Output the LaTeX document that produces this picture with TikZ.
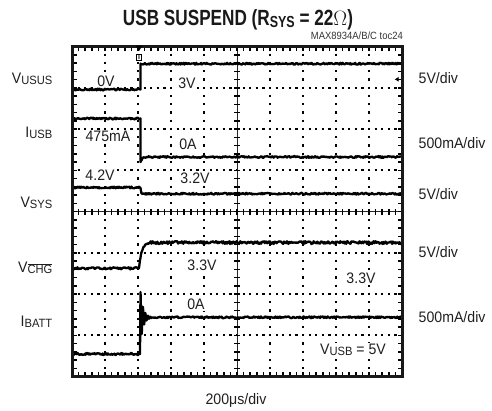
\documentclass[tikz,border=0pt]{standalone}
\usepackage{fontspec}
\usetikzlibrary{arrows.meta}
\setmainfont{Liberation Sans}[FakeStretch=0.93]
\newfontfamily\titlefont{Liberation Sans Bold}[FakeStretch=0.78]
\newfontfamily\smallfont{Liberation Sans}[FakeStretch=0.9]
\newcommand\lsub[1]{\raisebox{-1pt}{\fontsize{12}{13}\selectfont #1}}
\newcommand\tsub[1]{\raisebox{-2pt}{\fontsize{16}{17}\selectfont #1}}
\begin{document}
\begin{tikzpicture}[x=1pt,y=-1pt,
  lbl/.style={inner sep=0.5pt,font=\fontsize{15.2}{16}\selectfont,text=black!88},
  inlbl/.style={lbl,fill=white,inner sep=1.2pt},
  hdots/.style={line width=2.2pt,dash pattern=on 2.2pt off 4.4pt,black},
  vdots/.style={line width=2.2pt,dash pattern=on 2.2pt off 6.05pt,black},
  hticks/.style={dash pattern=on 1.5pt off 5.1pt,black},
  vticks/.style={dash pattern=on 1.5pt off 6.75pt,black},
  axisline/.style={line width=1pt,black!85},
  trace/.style={line width=2.3pt,black,line join=round},
  framebox/.style={line width=3pt,black!90}]
\useasboundingbox (0,0) rectangle (492,410);
\pgfmathsetseed{7}
% grid: horizontal dotted lines
\draw[hdots] (70.9,87.75) -- (402,87.75);
\draw[hdots] (70.9,129) -- (402,129);
\draw[hdots] (70.9,170.25) -- (402,170.25);
\draw[hdots] (70.9,252.75) -- (402,252.75);
\draw[hdots] (70.9,294) -- (402,294);
\draw[hdots] (70.9,335.25) -- (402,335.25);
% grid: vertical dotted lines
\draw[vdots] (105,45.4) -- (105,376.5);
\draw[vdots] (138,45.4) -- (138,376.5);
\draw[vdots] (171,45.4) -- (171,376.5);
\draw[vdots] (204,45.4) -- (204,376.5);
\draw[vdots] (270,45.4) -- (270,376.5);
\draw[vdots] (303,45.4) -- (303,376.5);
\draw[vdots] (336,45.4) -- (336,376.5);
\draw[vdots] (369,45.4) -- (369,376.5);
% centre axes with ticks
\draw[axisline] (72,211.5) -- (402,211.5);
\draw[axisline] (237,46.5) -- (237,376.5);
\draw[hticks,line width=6pt] (71.25,211.5) -- (402,211.5);
\draw[vticks,line width=6pt] (237,45.75) -- (237,376.5);
% ticks along the frame edges
\draw[hticks,line width=4.5pt] (71.25,48.75) -- (402,48.75);
\draw[hticks,line width=4.5pt] (71.25,374.25) -- (402,374.25);
\draw[vticks,line width=4.5pt] (74.25,45.75) -- (74.25,376.5);
\draw[vticks,line width=4.5pt] (399.75,45.75) -- (399.75,376.5);
% labels inside plot (white backing)
\node[inlbl] (l0v) at (106,81.5) {0V};
\node[inlbl] (l3v) at (187,83.3) {3V};
\node[inlbl] (l475) at (108,136.7) {475mA};
\node[inlbl] (l0a) at (188,144) {0A};
\node[inlbl] (l42) at (100,175) {4.2V};
\node[inlbl] (l32) at (195,178.3) {3.2V};
\node[inlbl] (l33a) at (202,265) {3.3V};
\node[inlbl] (l33b) at (361,278.3) {3.3V};
\node[inlbl] (l0b) at (196,304) {0A};
\node[inlbl] (lvusb) at (353,350) {V\lsub{USB} = 5V};
% traces
\draw[trace] plot[domain=73:139,samples=90] (\x,{89.5+0.9*rand}) -- (140.5,89.5) -- (140.5,63.5)
  -- plot[domain=141:401,samples=330] (\x,{63.7+0.9*rand});
\draw[trace] plot[domain=73:139,samples=90] (\x,{118.5+0.9*rand}) -- (140.5,118.5) -- (140.5,162) -- (143,157.5)
  -- plot[domain=144:401,samples=330] (\x,{157+0.9*rand});
\draw[trace] plot[domain=73:139,samples=90] (\x,{187.5+0.9*rand}) -- (140.5,188) -- (141.5,193.5)
  -- plot[domain=142:401,samples=330] (\x,{193.7+0.9*rand});
\draw[trace] plot[domain=73:139,samples=90] (\x,{268.3+1.1*rand})
  -- plot[domain=139:150,samples=25] (\x,{268.3-25.5*(1-exp(-(\x-139)/2.6))+0.5*rand})
  -- plot[domain=150:401,samples=340] (\x,{242.6+1.4*rand});
\draw[trace] plot[domain=73:139,samples=90] (\x,{354+1.1*rand}) -- (140,354) -- (140.5,292)
  -- plot[domain=140.5:152,samples=80] (\x,{317.5-25*exp(-(\x-140.5)/2.8)*cos(deg(2*pi*(\x-140.5)/2.4))})
  -- plot[domain=152:401,samples=330] (\x,{317.3+0.9*rand});
% frame
\draw[framebox] (72,46.5) rectangle (402,376.5);
% trigger marker and ground arrow
\fill[black] (135.5,45.5) -- (142.5,45.5) -- (139,51) -- cycle;
\node[draw=black,line width=0.8pt,fill=white,inner sep=0.6pt,font=\fontsize{7}{7}\selectfont\bfseries] (trig) at (139,57.5) {T};
\coordinate (gndtail) at (400,79.3);
\coordinate (gndtip) at (394.5,79.3);
\draw[line width=1.3pt,-{Latex[length=4pt,width=5pt]}] (gndtail) -- (gndtip);
% title
\node[inner sep=0pt,font=\titlefont\fontsize{22}{24}\selectfont,text=black!90] (title) at (238,20) {USB SUSPEND (R\tsub{SYS} = 22$\Omega$)};
\node[inner sep=0pt,anchor=east,font=\smallfont\fontsize{10.5}{11}\selectfont,text=black!80] (toc) at (403,35.5) {MAX8934A/B/C toc24};
% left labels
\node[lbl,anchor=east] (vusus) at (53,79.3) {V\lsub{USUS}};
\node[lbl,anchor=east] (iusb) at (53,133.3) {I\lsub{USB}};
\node[lbl,anchor=east] (vsys) at (53,203.3) {V\lsub{SYS}};
\node[lbl,anchor=east] (vchg) at (53,268.3) {V\lsub{$\overline{\hbox{CHG}}$}};
\node[lbl,anchor=east] (ibatt) at (53,321.7) {I\lsub{BATT}};
% right labels
\node[lbl,anchor=west] (r1) at (418,78.3) {5V/div};
\node[lbl,anchor=west] (r2) at (418,142.7) {500mA/div};
\node[lbl,anchor=west] (r3) at (418,194) {5V/div};
\node[lbl,anchor=west] (r4) at (418,251.7) {5V/div};
\node[lbl,anchor=west] (r5) at (418,316.7) {500mA/div};
% bottom
\node[lbl] (tdiv) at (236,400) {200μs/div};
\end{tikzpicture}
\end{document}
